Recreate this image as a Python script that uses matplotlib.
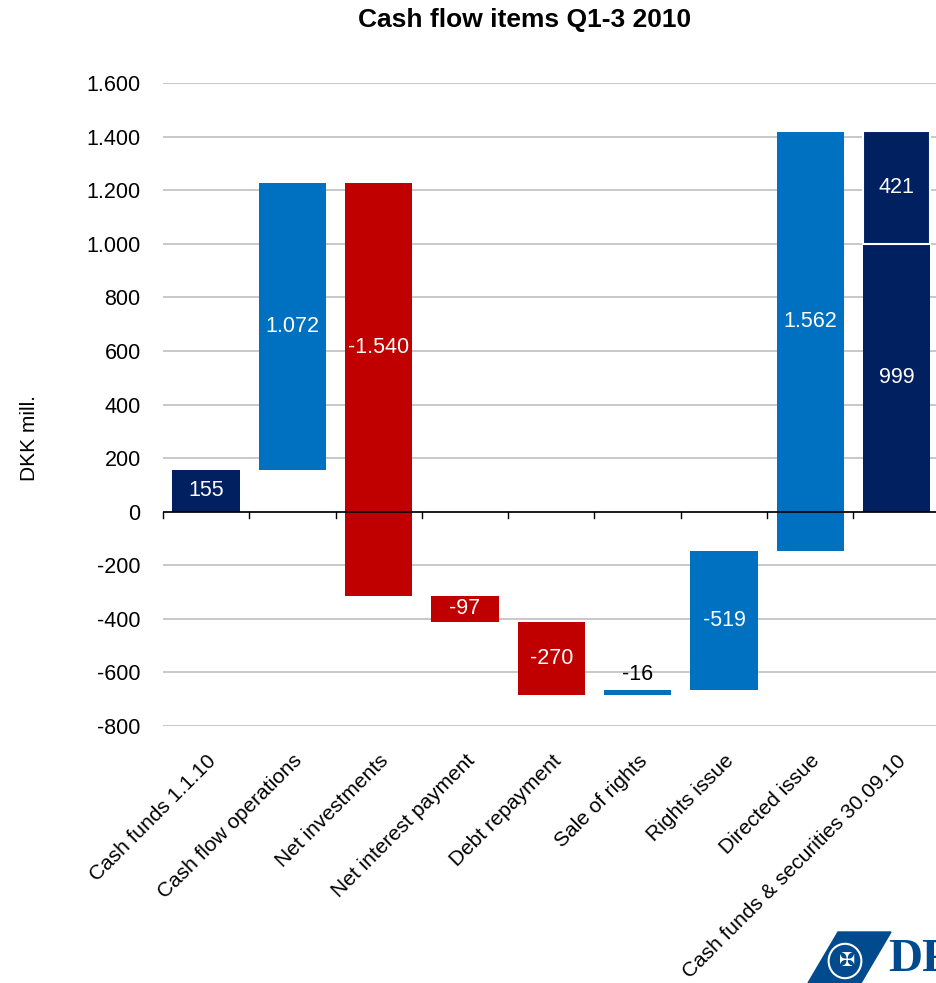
import matplotlib.pyplot as plt
import matplotlib.patches as mpatches
from matplotlib.ticker import FuncFormatter

plt.rcParams['font.family'] = ['Liberation Sans', 'DejaVu Sans']

# data
categories = ['Cash funds 1.1.10', 'Cash flow operations', 'Net investments',
              'Net interest payment', 'Debt repayment', 'Sale of rights',
              'Rights issue', 'Directed issue', 'Cash funds & securities 30.09.10']
labels = [155, 1072, -1540, -97, -270, -16, -519, 1562, 999]
bottoms = [0, 155, -313, -410, -683, -686, -664, -146, 0]
tops = [155, 1227, 1227, -313, -410, -667, -146, 1417, 999]
kinds = ['total', 'pos', 'neg', 'neg', 'neg', 'pos', 'pos', 'pos', 'total']
last_extra = 421   # securities on top of the final cash funds

colors = {'total': '#002060', 'pos': '#0070C0', 'neg': '#C00000'}

def fmt(v, pos=None):
    s = f'{abs(int(v)):,}'.replace(',', '.')
    return '-' + s if v < 0 else s

fig = plt.figure(figsize=(9.36, 9.83), dpi=100)
ax = fig.add_axes([0.174, 0.2614, 0.83, 0.6542])

x = list(range(len(categories)))
for i in x:
    b, t = bottoms[i], tops[i]
    ax.bar(i, t - b, bottom=b, width=0.78, color=colors[kinds[i]], zorder=3)
    if b < 0 < t:
        ly = t / 2
    else:
        ly = (b + t) / 2
    if abs(t - b) < 60:
        ax.text(i, t + 20, fmt(labels[i]), ha='center', va='bottom',
                fontsize=15.5, color='black', zorder=4)
    else:
        ax.text(i, ly, fmt(labels[i]), ha='center', va='center',
                fontsize=15.5, color='white', zorder=4)

# securities stacked on the last bar
i = len(categories) - 1
ax.bar(i, last_extra, bottom=tops[i], width=0.78, color=colors['total'],
       edgecolor='white', linewidth=1.5, zorder=3)
ax.text(i, tops[i] + last_extra / 2, fmt(last_extra), ha='center', va='center',
        fontsize=15.5, color='white', zorder=4)

ax.set_xlim(-0.5, len(categories) - 0.5)
ax.set_ylim(-800, 1600)
ax.set_yticks(range(-800, 1601, 200))
ax.yaxis.set_major_formatter(FuncFormatter(fmt))
ax.tick_params(axis='y', length=0, labelsize=15.5, pad=16)
ax.grid(axis='y', color='#BFBFBF', linewidth=1.2, zorder=0)
for s in ax.spines.values():
    s.set_visible(False)

ax.axhline(0, color='black', linewidth=1.2, zorder=5)
for k in range(len(categories) + 1):
    ax.plot([k - 0.5, k - 0.5], [0, -22], color='black', linewidth=1, zorder=5,
            clip_on=False)

ax.set_xticks(x)
ax.set_xticklabels(categories, rotation=45, ha='right', rotation_mode='anchor',
                   fontsize=15)
ax.tick_params(axis='x', length=0, pad=18)

fig.text(30 / 936, 1 - 438 / 983, 'DKK mill.', rotation=90, ha='center',
         va='center', fontsize=15)
fig.text(525 / 936, 1 - 20 / 983, 'Cash flow items Q1-3 2010', ha='center',
         va='center', fontsize=19, fontweight='bold')

# logo in the corner
fig.patches.append(mpatches.Polygon(
    [(808 / 936, 0), (838 / 936, 51 / 983), (891 / 936, 51 / 983), (861 / 936, 0)],
    closed=True, transform=fig.transFigure, color='#004A8D'))
fig.patches.append(mpatches.Circle((845 / 936, 22 / 983), 0.0175,
                                   transform=fig.transFigure, fill=False,
                                   edgecolor='white', linewidth=1.5))
fig.text(847 / 936, 22 / 983, '✠', ha='center', va='center', color='white',
         fontsize=14, family='DejaVu Sans')
fig.text(888 / 936, 2 / 983, 'DF', ha='left', va='bottom', color='#004A8D',
         fontsize=34, fontweight='bold', family='Liberation Serif')

fig.savefig('out.png', dpi=100)
